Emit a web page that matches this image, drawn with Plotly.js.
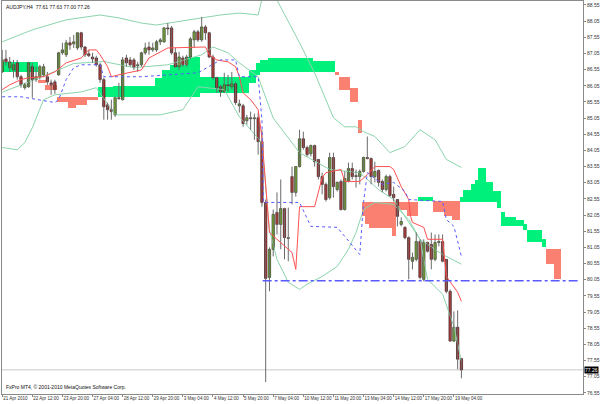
<!DOCTYPE html>
<html><head><meta charset="utf-8">
<script src="https://cdn.plot.ly/plotly-3.0.1.min.js"></script>
<style>html,body{margin:0;padding:0;background:#fff}#chart{width:600px;height:404px}</style>
</head><body><div id="chart"></div>
<script>
// ---- candles (H4 AUDJPY), bar index 0..122 ----
const opens = [86.48,86.88,86.61,86.54,86.76,86.33,85.99,86.02,86.64,86.24,
86.33,86.39,86.33,86.14,86.17,86.39,87.07,87.01,87.38,87.35,
87.22,87.69,87.25,87.04,86.94,86.91,86.70,86.24,85.46,85.31,
85.15,85.68,85.62,86.91,86.85,86.85,86.67,86.70,87.07,87.25,
87.16,87.16,87.41,87.41,87.84,87.84,87.07,86.64,86.91,86.70,
86.94,87.47,87.72,87.47,87.87,87.69,86.94,86.30,86.02,85.86,
86.08,86.02,86.11,85.43,85.43,84.97,85.06,85.03,85.06,84.32,
82.44,80.12,80.99,82.13,81.76,82.25,81.35,83.24,82.75,83.55,
84.41,84.14,83.95,84.20,83.77,83.24,83.00,82.59,83.83,82.84,
83.09,82.22,83.09,83.49,83.27,83.24,83.40,83.83,83.80,83.24,
83.43,83.09,82.84,83.24,82.69,82.53,81.76,81.67,81.35,80.62,
80.68,81.23,80.06,81.20,81.14,80.68,81.20,81.23,80.68,79.69,
78.15,78.58,77.61];
const highs = [87.16,87.16,86.94,86.85,86.85,86.39,86.14,86.79,86.76,86.64,
86.70,86.73,86.48,86.24,86.24,87.10,87.38,87.47,87.56,87.62,
87.69,87.72,87.28,87.16,87.07,86.98,86.76,86.30,85.53,85.62,
85.71,86.14,86.94,87.01,86.94,86.91,86.79,87.10,87.38,87.41,
87.38,87.47,87.53,87.87,87.99,87.90,87.22,87.10,86.98,87.01,
87.56,87.78,87.78,88.18,87.93,87.72,87.01,86.33,86.08,86.45,
86.39,86.48,86.17,85.62,85.49,85.15,85.25,85.19,85.22,84.69,
82.53,81.05,82.22,82.75,83.15,82.28,82.28,83.55,83.55,84.69,
84.63,84.20,84.23,84.23,83.77,83.36,83.06,83.98,83.98,83.09,
83.15,83.40,83.67,83.67,83.46,83.46,83.86,84.48,83.83,83.70,
83.46,83.15,83.30,83.30,82.93,82.53,81.98,81.70,81.39,80.89,
81.51,81.30,81.30,81.23,81.51,81.45,81.45,81.45,80.68,79.75,
79.07,79.10,77.63];
const lows = [86.45,86.67,86.48,86.30,86.24,85.99,85.93,85.99,85.68,86.17,
86.24,86.33,86.08,85.77,85.80,86.36,87.01,86.94,87.16,87.22,
87.16,87.16,86.94,86.94,86.76,86.64,86.14,85.00,85.00,85.00,
85.09,85.62,85.59,86.64,86.64,86.54,86.48,86.64,87.01,87.01,
87.10,87.10,87.31,87.38,87.62,87.01,86.61,86.54,86.64,86.64,
86.88,87.22,87.41,87.41,87.47,86.91,86.24,85.83,85.71,85.83,
85.86,85.93,85.46,85.22,84.78,84.85,84.69,84.38,83.92,82.31,
76.88,79.69,80.77,81.45,80.99,80.68,80.62,82.38,82.62,83.52,
84.07,83.86,83.86,83.55,83.15,82.69,82.47,82.53,82.59,82.78,
82.19,82.19,83.06,83.15,82.90,83.00,83.36,83.77,83.00,83.06,
82.93,82.75,82.78,82.62,82.47,81.70,81.70,81.30,80.06,80.37,
80.62,80.06,80.00,80.89,80.37,80.62,81.08,80.59,79.63,78.15,
78.12,77.28,77.00];
const closes = [86.85,86.79,86.79,86.70,86.33,86.08,86.08,86.76,86.24,86.33,
86.64,86.64,86.17,86.08,85.93,87.07,87.16,87.38,87.31,87.41,
87.69,87.25,87.01,86.98,86.88,86.70,86.24,85.40,85.31,85.25,
85.68,85.65,86.85,86.76,86.70,86.61,86.70,87.07,87.22,87.16,
87.22,87.41,87.47,87.84,87.81,87.07,86.64,86.94,86.70,86.94,
87.50,87.72,87.47,87.87,87.69,86.94,86.30,85.99,85.86,86.08,
86.05,86.11,85.53,85.49,84.88,85.06,85.03,85.06,84.32,82.44,
80.09,80.99,82.07,81.76,82.25,81.35,81.33,82.75,83.55,84.41,
84.14,83.92,84.20,83.70,83.24,83.00,82.53,83.83,82.93,83.06,
82.22,83.18,83.49,83.24,83.24,83.40,83.83,83.80,83.24,83.40,
83.06,82.84,83.24,82.65,82.59,82.01,81.85,81.35,80.68,80.74,
81.23,80.12,81.20,80.93,80.68,81.20,81.23,80.62,79.69,78.15,
78.58,77.59,77.26];

// ---- Ichimoku cloud (Senkou span A / B), bar index 0..148 ----
const spanA = [86.79,86.79,86.79,86.79,86.79,86.79,86.79,86.79,86.79,86.79,
86.14,86.14,85.93,85.93,85.93,85.56,85.56,85.56,85.37,85.37,
85.46,85.46,85.46,85.62,85.62,85.62,86.02,86.02,86.02,86.02,
86.05,86.05,86.05,86.05,86.05,86.05,86.05,86.05,86.05,86.05,
86.05,86.30,86.30,86.54,86.54,86.70,86.70,86.70,86.70,86.70,
86.94,86.94,86.94,86.33,86.33,86.33,86.33,86.33,86.33,86.33,
86.33,86.33,86.33,86.33,86.33,86.33,86.54,86.54,86.76,86.85,
86.85,86.91,86.91,86.91,86.91,86.91,86.91,86.91,86.91,86.91,
86.91,86.91,86.91,86.82,86.82,86.82,86.82,86.82,86.82,86.39,
85.93,85.93,85.93,85.56,85.56,84.60,82.01,81.76,81.64,81.64,
81.64,81.64,81.64,81.64,81.39,82.28,82.22,82.22,82.01,82.01,
82.01,82.62,82.62,82.62,82.62,82.13,82.13,82.13,82.01,82.01,
81.91,81.91,82.62,82.84,82.84,83.00,83.15,83.52,83.52,83.06,
83.06,82.78,82.78,82.13,81.98,81.98,81.98,81.91,81.91,81.76,
81.60,81.60,81.60,81.60,81.30,80.53,80.53,80.06,80.06];
const spanB = [86.48,86.48,86.48,86.48,86.48,86.48,86.48,86.48,86.48,86.48,
86.24,86.24,86.08,86.08,86.08,85.71,85.71,85.71,85.71,85.71,
85.71,85.71,85.71,85.71,85.71,85.71,85.71,85.71,85.71,85.71,
85.71,85.71,85.71,85.71,85.71,85.71,85.71,85.71,85.71,85.71,
85.71,85.71,85.71,85.71,85.71,85.71,85.71,85.71,85.71,85.71,
85.71,85.71,85.71,85.83,85.83,85.83,85.83,85.83,85.83,85.83,
85.83,85.83,85.83,85.83,85.83,85.83,86.14,86.14,86.39,86.48,
86.48,86.48,86.48,86.48,86.48,86.48,86.48,86.48,86.48,86.48,
86.48,86.48,86.48,86.48,86.48,86.48,86.48,86.48,86.48,86.48,
86.33,86.33,86.33,85.99,85.99,85.00,82.44,82.44,82.44,82.44,
82.44,82.44,82.44,82.44,82.44,82.44,82.44,82.44,82.44,82.44,
82.44,82.47,82.47,82.47,82.47,82.47,82.47,82.47,82.47,82.47,
82.47,82.47,82.44,82.44,82.44,82.44,82.44,82.44,82.44,82.44,
82.44,82.44,82.28,81.70,81.70,81.70,81.70,81.70,81.70,81.60,
81.23,81.23,81.23,81.23,81.05,80.99,80.99,80.99,80.99];

// ---- indicator lines (sampled bar index / price) ----
const tenkanX = [0,2,5,7,11,14,17,21,23,25,26,28,29,31,37,39,44,50,54,55,57,60,62,63,64,66,68,69,70,71,73,75,77,78,79,83,85,86,90,91,95,97,99,103,104,106,108,108.5,109,112,113,117,118,121,122];
const tenkanY = [85.93,86.08,86.24,86.30,86.33,86.48,86.76,86.91,87.16,87.16,87.01,86.64,86.33,86.39,86.54,86.91,87.22,87.25,87.25,87.01,86.85,86.79,86.64,86.33,85.83,85.62,85.31,84.45,82.84,81.51,81.30,81.08,80.89,80.37,82.31,82.31,83.21,83.36,83.46,83.09,83.09,83.30,83.55,83.55,83.46,82.93,82.53,82.01,81.82,81.67,81.30,81.30,80.15,79.66,79.38];
const kijunX = [0,5,14,15,17,19,21,26,27,37,52,58,62,63,68,69,69.4,79,82,89,95,96,97,101,104,107,108,117,118,120,122];
const kijunY = [85.71,85.71,85.53,85.62,86.24,86.61,86.70,86.70,86.33,86.33,86.45,86.85,86.85,86.33,86.33,85.00,82.44,82.44,81.70,81.67,80.83,82.44,83.36,83.00,83.06,82.78,82.53,82.47,81.91,81.70,80.77];
const bbUpX = [0,8,17,26,31,37,41,44,49,53,58,63,68,70,72,73,79,83,88,91,94,96,99,103,107,111,115,118,122];
const bbUpY = [87.41,87.78,88.09,88.24,88.15,87.99,87.93,87.99,88.09,88.15,88.24,88.30,88.24,89.2,89.2,88.70,87.38,86.45,85.06,84.78,84.78,84.63,84.48,83.98,84.17,84.69,84.38,83.77,83.52];
const bbMidX = [0,10,19,27,35,44,53,56,60,63,68,72,79,87,95,100,104,107,111,117,122];
const bbMidY = [85.85,86.30,86.74,86.80,86.61,86.70,87.01,87.25,87.07,86.76,86.33,85.05,83.98,83.46,83.36,82.84,82.53,82.01,81.30,80.83,80.53];
const bbLowX = [0,4,6,8,11,14,21,25,30,42,48,52,59,63,69,71,73,76,79,81,85,89,92,94,96,99,104,108,111,113,117,120,122];
const bbLowY = [84.14,84.07,84.29,84.75,85.62,85.77,85.86,85.99,85.15,85.15,85.31,86.02,85.93,85.09,84.29,81.60,80.68,79.97,79.75,79.91,80.15,80.46,80.99,81.51,82.22,82.44,82.38,81.91,81.30,80.06,79.60,78.60,77.52];

const supportLevel = 80.02, supportStartBar = 69.2, supportEndBar = 153.3;
const yTicks = [88.55,88.05,87.55,87.05,86.55,86.05,85.55,85.05,84.55,84.05,83.55,83.05,82.55,82.05,81.55,81.05,80.55,80.05,79.55,79.05,78.55,78.05,77.55,77.05,76.55];
const xTickBars = [0,8,16,24,32,40,48,56,64,72,80,88,96,104,112,120];
const xTickText = ['21 Apr 2010','22 Apr 12:00','23 Apr 20:00','27 Apr 04:00','28 Apr 12:00','29 Apr 20:00','3 May 04:00','4 May 12:00','5 May 20:00','7 May 04:00','10 May 12:00','11 May 20:00','13 May 04:00','14 May 12:00','17 May 20:00','19 May 04:00'];
const symbolTitle = 'AUDJPY,H4  77.61 77.63 77.00 77.26';
const footer = 'FxPro MT4, \u00a9 2001-2010 MetaQuotes Software Corp.';

// ---- build traces ----
const n = opens.length;
const idx = opens.map((_, i) => i);
const cIdx = spanA.map((_, i) => i);
const cloudLo = cIdx.map(i => Math.min(spanA[i], spanB[i]));
const cloudH = cIdx.map(i => Math.abs(spanA[i] - spanB[i]));
const greenH = cIdx.map(i => spanA[i] >= spanB[i] ? cloudH[i] : null);
const redH = cIdx.map(i => spanA[i] < spanB[i] ? cloudH[i] : null);

const traces = [];
traces.push({type:'bar', x:cIdx, y:greenH, base:cloudLo, width:1.02, marker:{color:'#00f07c', line:{width:0}}, hoverinfo:'skip'});
traces.push({type:'bar', x:cIdx, y:redH, base:cloudLo, width:1.02, marker:{color:'#fa8072', line:{width:0}}, hoverinfo:'skip'});

const lineStyle = (c, w, d) => ({color:c, width:w, dash:d||'solid'});
traces.push({type:'scatter', mode:'lines', x:bbUpX, y:bbUpY, line:lineStyle('#8cd4ad',1), hoverinfo:'skip'});
traces.push({type:'scatter', mode:'lines', x:bbMidX, y:bbMidY, line:lineStyle('#8cd4ad',1), hoverinfo:'skip'});
traces.push({type:'scatter', mode:'lines', x:bbLowX, y:bbLowY, line:lineStyle('#8cd4ad',1), hoverinfo:'skip'});

// wicks
const wx = [], wy = [];
for (let i = 0; i < n; i++) { wx.push(i, i, null); wy.push(lows[i], highs[i], null); }
traces.push({type:'scatter', mode:'lines', x:wx, y:wy, line:{color:'#6a6a6a', width:1}, hoverinfo:'skip'});

const upBase = [], upH = [], dnBase = [], dnH = [];
for (let i = 0; i < n; i++) {
  const lo = Math.min(opens[i], closes[i]);
  const h = Math.max(Math.abs(closes[i] - opens[i]), 0.02);
  if (closes[i] >= opens[i]) { upBase.push(lo); upH.push(h); dnBase.push(null); dnH.push(null); }
  else { dnBase.push(lo); dnH.push(h); upBase.push(null); upH.push(null); }
}
traces.push({type:'bar', x:idx, y:upH, base:upBase, width:0.62, marker:{color:'#7fe000', line:{color:'#2a2a2a', width:0.7}}, hoverinfo:'skip'});
traces.push({type:'bar', x:idx, y:dnH, base:dnBase, width:0.62, marker:{color:'#ee0000', line:{color:'#2a2a2a', width:0.7}}, hoverinfo:'skip'});

traces.push({type:'scatter', mode:'lines', x:tenkanX, y:tenkanY, line:lineStyle('#ff5050',1), hoverinfo:'skip'});
traces.push({type:'scatter', mode:'lines', x:kijunX, y:kijunY, line:lineStyle('#5a5aff',1,'dot'), hoverinfo:'skip'});

const lastClose = closes[n - 1];
const layout = {
  width:600, height:404, showlegend:false, barmode:'overlay', bargap:0,
  paper_bgcolor:'#ffffff', plot_bgcolor:'#ffffff',
  margin:{l:2, r:17, t:1, b:10},
  font:{family:'Liberation Sans, Arial, sans-serif', size:5, color:'#333'},
  xaxis:{range:[-0.05,154.3], showgrid:false, zeroline:false, tickmode:'array', tickvals:xTickBars, ticktext:xTickText,
    tickangle:0, automargin:false,
    ticks:'outside', ticklen:2, tickcolor:'#888', ticklabelposition:'outside right', tickfont:{size:4.5, color:'#333'},
    showline:true, linecolor:'#8a8a8a', linewidth:1, mirror:true, fixedrange:true},
  yaxis:{range:[76.513,88.673], side:'right', showgrid:false, zeroline:false, tickmode:'array', tickvals:yTicks, automargin:false,
    ticktext:yTicks.map(v => v.toFixed(2)), ticks:'outside', ticklen:2, tickcolor:'#888', tickfont:{size:5, color:'#333'},
    showline:true, linecolor:'#8a8a8a', linewidth:1, mirror:true, fixedrange:true},
  shapes:[
    {type:'line', xref:'x', yref:'y', x0:supportStartBar, x1:supportEndBar, y0:supportLevel, y1:supportLevel, line:{color:'#5a5aff', width:1.5, dash:'dashdot'}},
    {type:'line', xref:'paper', yref:'y', x0:0, x1:1, y0:lastClose, y1:lastClose, line:{color:'#c8c8c8', width:1}, layer:'below'}
  ],
  annotations:[
    {xref:'paper', yref:'paper', x:0.003, y:0.997, xanchor:'left', yanchor:'top', text:symbolTitle, showarrow:false, font:{size:5, color:'#111'}},
    {xref:'paper', yref:'paper', x:0.003, y:0.004, xanchor:'left', yanchor:'bottom', text:footer, showarrow:false, font:{size:5, color:'#111'}},
    {xref:'paper', yref:'y', x:1, y:lastClose, xanchor:'left', xshift:1, text:lastClose.toFixed(2), showarrow:false, bgcolor:'#000', font:{size:5, color:'#fff'}, borderpad:0}
  ]
};
Plotly.newPlot('chart', traces, layout, {displayModeBar:false, staticPlot:true});
</script></body></html>
